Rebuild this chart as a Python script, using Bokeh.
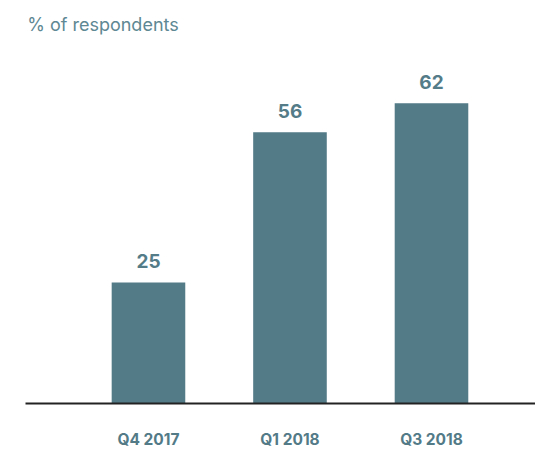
from bokeh.plotting import figure
from bokeh.models import Range1d, FixedTicker, Label, ColumnDataSource
from bokeh.core.properties import value
from bokeh.embed import file_html
from bokeh.resources import INLINE

categories = ["Q4 2017", "Q1 2018", "Q3 2018"]
values = [25, 56, 62]
title_text = "% of respondents"

BAR = "#527a87"
TXT = "#547c88"
TITLE = "#5e8893"
FONT = "Inter"

positions = [i + 0.5 for i in range(len(categories))]
labels = [str(v) for v in values]

src = ColumnDataSource(dict(x=positions, top=values, label=labels))

p = figure(width=535, height=451, output_backend="svg", toolbar_location=None,
           x_range=Range1d(-0.369, 3.235), y_range=Range1d(0, 83.2),
           y_axis_location=None, min_border_left=25, min_border_right=0,
           min_border_top=0, min_border_bottom=40)
p.outline_line_color = None
p.grid.visible = False
p.background_fill_color = "white"
p.border_fill_color = "white"

p.vbar(x="x", top="top", bottom=0, width=0.52, source=src, color=BAR, line_color=None)
p.text(x="x", y="top", text="label", source=src, text_align="center",
       text_baseline="alphabetic", y_offset=-21, text_font=value(FONT),
       text_font_size="19px", text_font_style="bold", text_color=TXT)

ax = p.xaxis[0]
ax.ticker = FixedTicker(ticks=positions)
ax.major_label_overrides = {pos: cat for pos, cat in zip(positions, categories)}
ax.major_tick_in = 0
ax.major_tick_out = 0
ax.minor_tick_in = 0
ax.minor_tick_out = 0
ax.axis_line_color = "#222222"
ax.axis_line_width = 2
ax.major_label_standoff = 26
ax.major_label_text_font = FONT
ax.major_label_text_font_size = "15.5px"
ax.major_label_text_font_style = "bold"
ax.major_label_text_color = BAR

p.add_layout(Label(x=-0.357, y=78.2, text=title_text, text_font=FONT,
                   text_font_size="18px", text_color=TITLE,
                   text_baseline="alphabetic"))

open("out.html", "w").write(file_html(p, INLINE))
